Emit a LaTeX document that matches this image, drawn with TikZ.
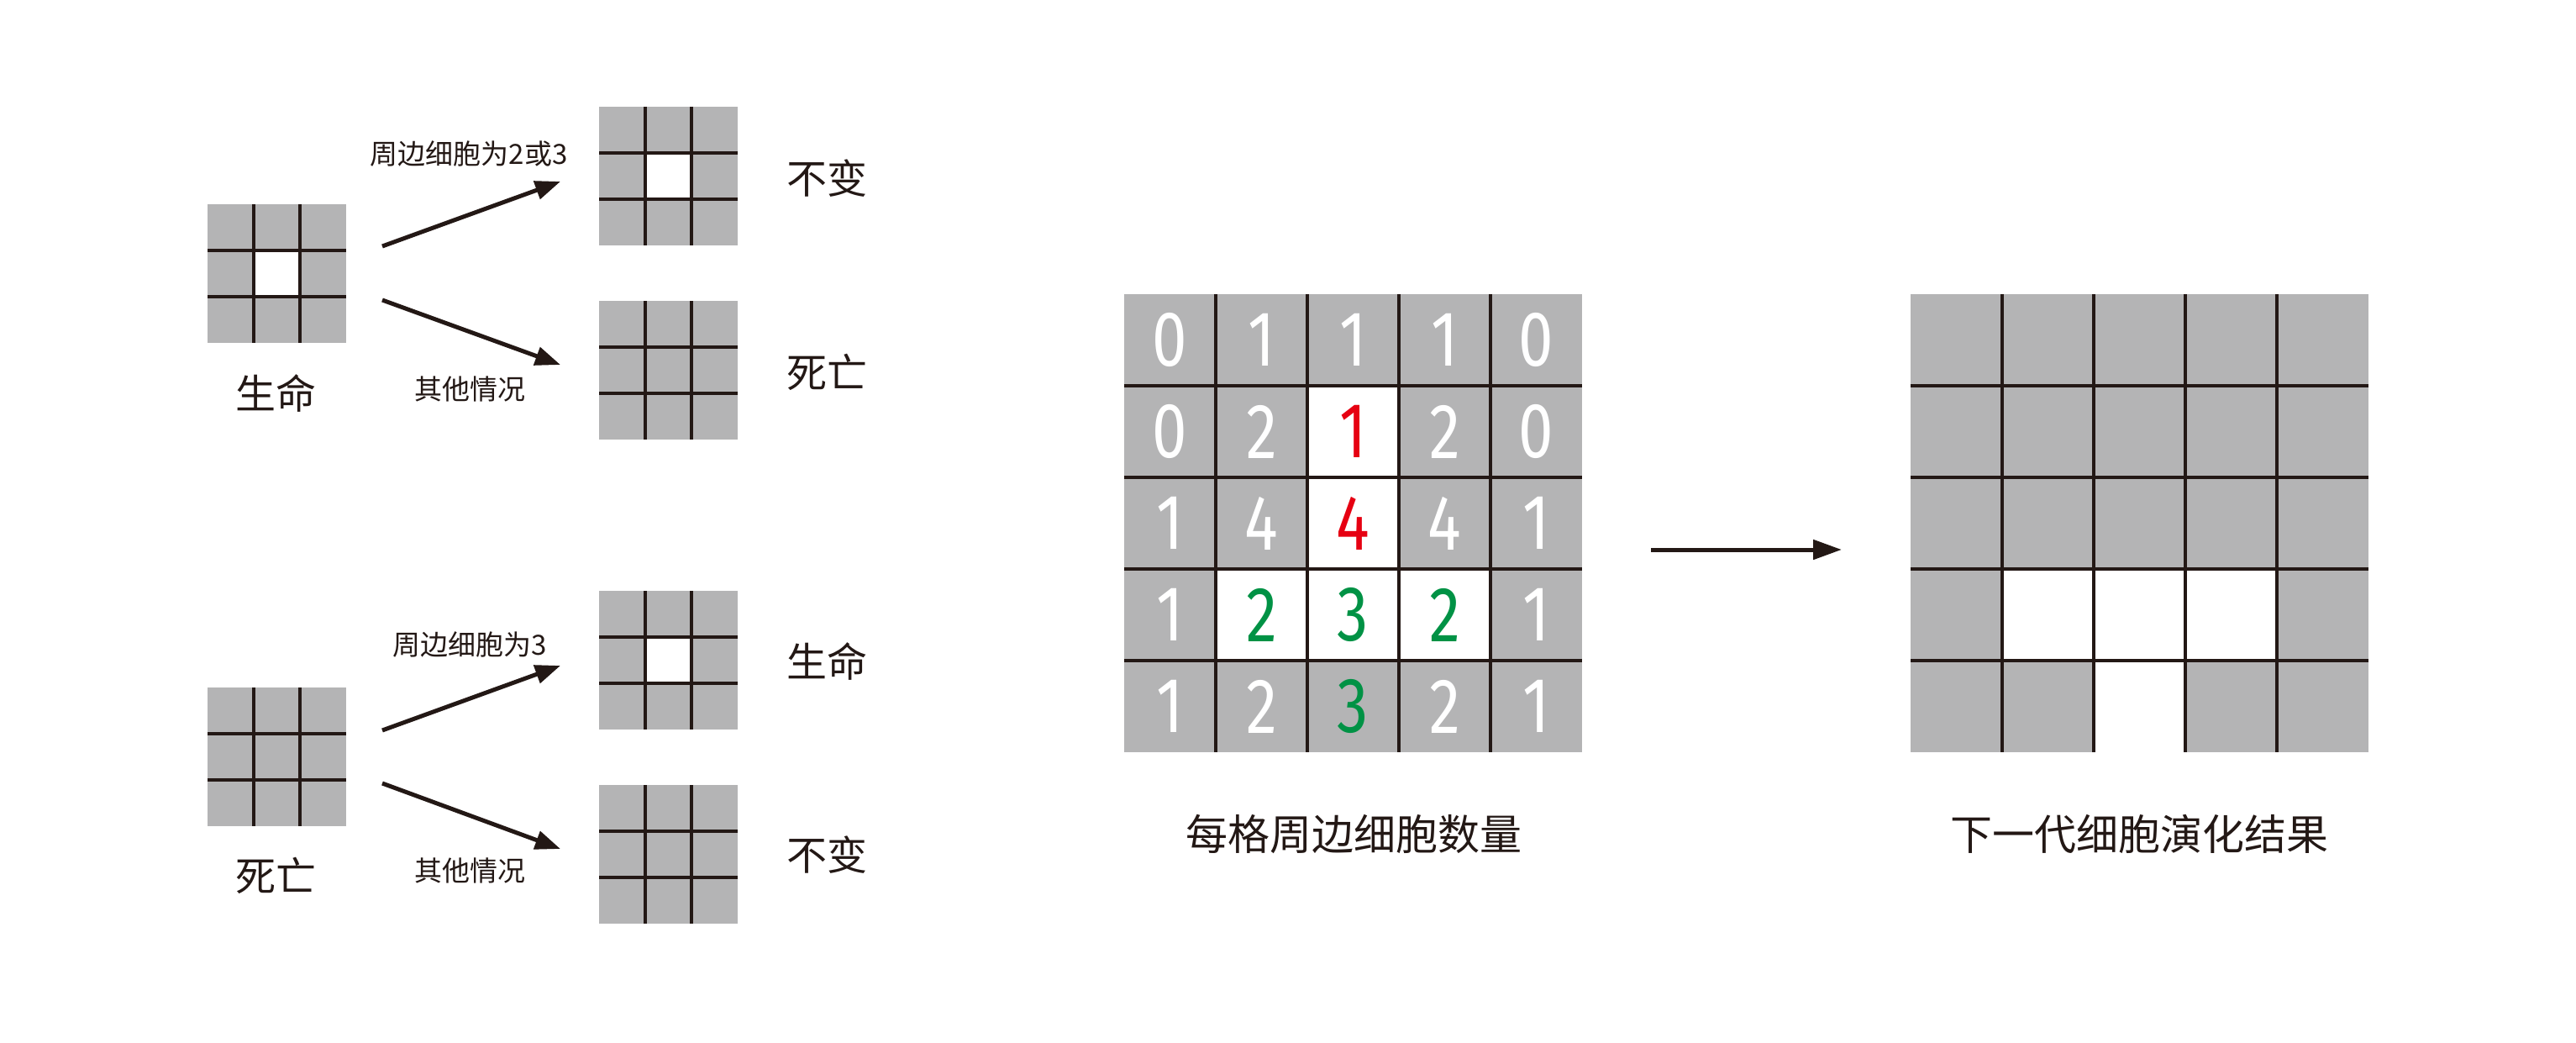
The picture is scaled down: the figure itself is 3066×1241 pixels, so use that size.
\documentclass[tikz,border=0pt]{standalone}
\usepackage{fontspec}
\newfontfamily\cjk{Noto Sans CJK SC}
\newfontfamily\digitfont{Fira Sans}[FakeStretch=0.8]
\usetikzlibrary{arrows.meta}
\definecolor{cellgray}{RGB}{180,180,181}
\definecolor{ink}{RGB}{35,24,21}
\definecolor{numred}{RGB}{230,0,18}
\definecolor{numgreen}{RGB}{0,146,69}
\tikzset{
  smallbox/.style={rectangle, fill=cellgray, minimum size=165pt, inner sep=0pt, anchor=north west},
  bigcell/.style={rectangle, fill=cellgray, minimum size=109pt, inner sep=0pt, text=white,
     font=\digitfont\fontsize{93}{93}\selectfont},
  livecell/.style={fill=white},
  gridline/.style={draw=ink, line width=4pt},
  flow/.style={draw=ink, line width=5pt, -{Triangle[length=30pt,width=22pt]}},
  bigflow/.style={draw=ink, line width=5pt, -{Triangle[length=34pt,width=23pt]}},
  biglabel/.style={text=ink, font=\cjk\fontsize{48}{48}\selectfont, inner sep=0pt},
  cond/.style={text=ink, font=\cjk\fontsize{33}{33}\selectfont, inner sep=0pt},
  caption/.style={text=ink, font=\cjk\fontsize{50}{50}\selectfont, inner sep=0pt},
}
\newcommand\smallgrid[4]{%
  \node[smallbox] (#1) at (#2,#3) {};
  \ifnum#4=1 \fill[white] ([xshift=55pt,yshift=-55pt]#1.north west) rectangle ++(55,55);\fi
  \draw[gridline] ([xshift=55pt]#1.north west) -- ([xshift=55pt]#1.south west);
  \draw[gridline] ([xshift=110pt]#1.north west) -- ([xshift=110pt]#1.south west);
  \draw[gridline] ([yshift=-55pt]#1.north west) -- ([yshift=-55pt]#1.north east);
  \draw[gridline] ([yshift=-110pt]#1.north west) -- ([yshift=-110pt]#1.north east);
}
\begin{document}
\begin{tikzpicture}[x=1pt,y=-1pt]
\useasboundingbox[fill=white] (0,0) rectangle (3066,1241);

% ---------- left rules: living cell ----------
\smallgrid{gA}{247}{243}{1}
\smallgrid{gB}{713}{127}{1}
\smallgrid{gC}{713}{358}{0}
\node[biglabel] (lA) at (328,468) {生命};
\node[biglabel] (lB) at (984,212) {不变};
\node[biglabel] (lC) at (984,443) {死亡};
\coordinate (a1s) at (455,293);
\coordinate (a1e) at (667,216);
\coordinate (a2s) at (455,357);
\coordinate (a2e) at (667,434);
\draw[flow] (a1s) -- (a1e);
\draw[flow] (a2s) -- (a2e);
\node[cond] (t1) at (558,183) {周边细胞为2或3};
\node[cond] (t2) at (559,463) {其他情况};

% ---------- left rules: dead cell ----------
\smallgrid{gD}{247}{818}{0}
\smallgrid{gE}{713}{703}{1}
\smallgrid{gF}{713}{934}{0}
\node[biglabel] (lD) at (328,1042) {死亡};
\node[biglabel] (lE) at (984,787) {生命};
\node[biglabel] (lF) at (984,1017) {不变};
\coordinate (a3s) at (455,869);
\coordinate (a3e) at (667,792);
\coordinate (a4s) at (455,932);
\coordinate (a4e) at (667,1010);
\draw[flow] (a3s) -- (a3e);
\draw[flow] (a4s) -- (a4e);
\node[cond] (t3) at (559,767) {周边细胞为3};
\node[cond] (t4) at (559,1036) {其他情况};

% ---------- neighbour counts grid ----------
\foreach \r/\c/\v/\f/\t in {
  0/0/0/0/white, 0/1/1/0/white, 0/2/1/0/white, 0/3/1/0/white, 0/4/0/0/white,
  1/0/0/0/white, 1/1/2/0/white, 1/2/1/1/numred, 1/3/2/0/white, 1/4/0/0/white,
  2/0/1/0/white, 2/1/4/0/white, 2/2/4/1/numred, 2/3/4/0/white, 2/4/1/0/white,
  3/0/1/0/white, 3/1/2/1/numgreen, 3/2/3/1/numgreen, 3/3/2/1/numgreen, 3/4/1/0/white,
  4/0/1/0/white, 4/1/2/0/white, 4/2/3/0/numgreen, 4/3/2/0/white, 4/4/1/0/white}{
  \ifnum\f=1
    \node[bigcell, livecell, text=\t] (n\r\c) at (1392.5+109*\c, 404.5+109*\r) {\v};
  \else
    \node[bigcell, text=\t] (n\r\c) at (1392.5+109*\c, 404.5+109*\r) {\v};
  \fi
}
\foreach \i in {0,1,2,3} {
  \draw[gridline] (n0\i.north east) -- (n4\i.south east);
  \draw[gridline] (n\i0.south west) -- (n\i4.south east);
}
\node[caption] (capL) at (1611,992) {每格周边细胞数量};

% ---------- arrow ----------
\coordinate (bs) at (1965,654);
\coordinate (be) at (2192,654);
\draw[bigflow] (bs) -- (be);

% ---------- next generation grid ----------
\foreach \r/\c/\f in {
  0/0/0, 0/1/0, 0/2/0, 0/3/0, 0/4/0,
  1/0/0, 1/1/0, 1/2/0, 1/3/0, 1/4/0,
  2/0/0, 2/1/0, 2/2/0, 2/3/0, 2/4/0,
  3/0/0, 3/1/1, 3/2/1, 3/3/1, 3/4/0,
  4/0/0, 4/1/0, 4/2/1, 4/3/0, 4/4/0}{
  \ifnum\f=1
    \node[bigcell, livecell] (m\r\c) at (2328.5+109*\c, 404.5+109*\r) {};
  \else
    \node[bigcell] (m\r\c) at (2328.5+109*\c, 404.5+109*\r) {};
  \fi
}
\foreach \i in {0,1,2,3} {
  \draw[gridline] (m0\i.north east) -- (m4\i.south east);
  \draw[gridline] (m\i0.south west) -- (m\i4.south east);
}
\node[caption] (capR) at (2546,992) {下一代细胞演化结果};
\end{tikzpicture}
\end{document}
